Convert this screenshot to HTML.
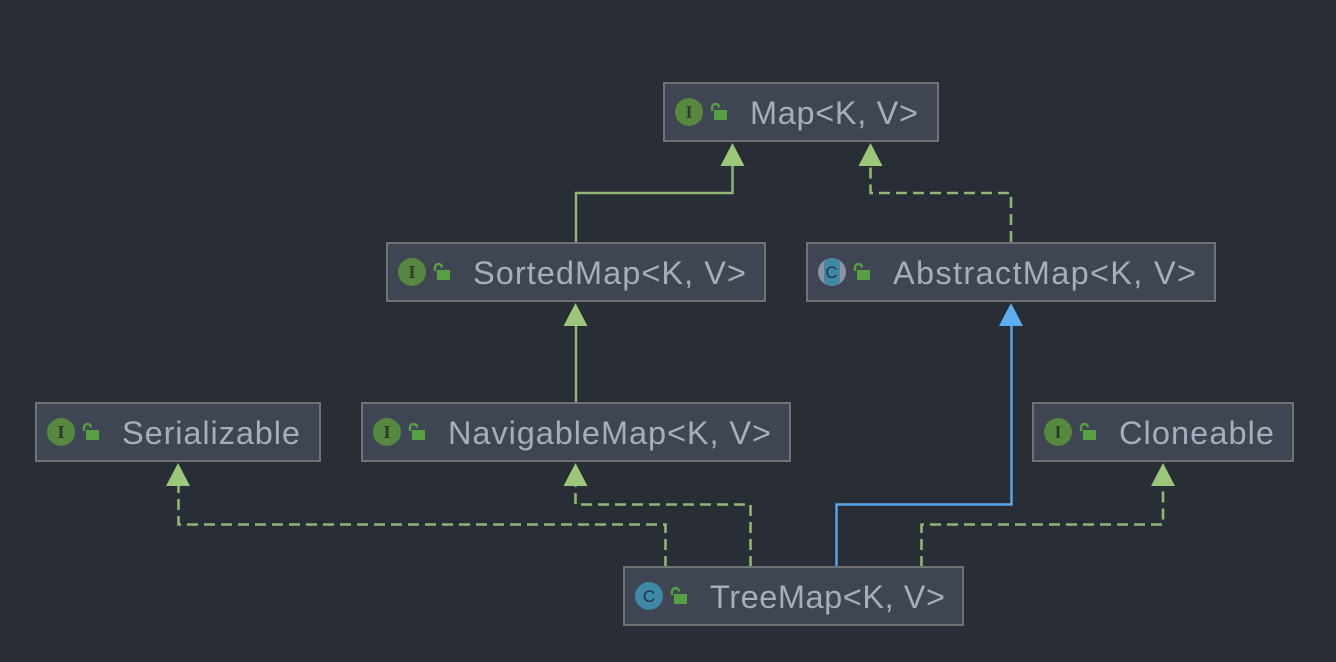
<!DOCTYPE html>
<html><head><meta charset="utf-8"><style>
html,body{margin:0;padding:0;background:#292d35;width:1336px;height:662px;overflow:hidden}
svg{display:block}
text{font-family:"Liberation Sans",sans-serif}
.b{fill:#3f4552;stroke:#707171;stroke-width:2}
.t{font-size:32.500px;fill:#a7adbc}
.s{fill:none;stroke:#8fb771;stroke-width:2.400}
.d{fill:none;stroke:#8fb771;stroke-width:2.600;stroke-dasharray:11 6}
.u{fill:none;stroke:#5ba8e8;stroke-width:2.400}
.ga{fill:#9ac878}
.ba{fill:#5cadf2}
.ci{fill:#56893f}
.cc{fill:#3e88a8}
.lt{font-family:"Liberation Serif",serif;font-size:18px;font-weight:bold;fill:#2f3a2c;text-anchor:middle}
.lc{font-family:"Liberation Sans",sans-serif;font-size:17px;fill:#26333d;text-anchor:middle}
.lk{fill:#56a044}
.ls{fill:none;stroke:#56a044;stroke-width:2.400}
</style></head><body>
<svg width="1336" height="662" viewBox="0 0 1336 662" xmlns="http://www.w3.org/2000/svg">
<path class="s" d="M576 243V193H732.500V165"/>
<path class="d" d="M1011 242V193H870.500V165"/>
<path class="s" d="M576 403V325"/>
<path class="u" d="M1011.500 325V504.500H836.500V567"/>
<path class="d" d="M665.500 567V524.500H178.500V485"/>
<path class="d" d="M750.500 567V504.500H575.500V485"/>
<path class="d" d="M921.500 567V524.500H1163V485"/>

<polygon class="ga" points="732.500,143 744.500,166 720.500,166"/>
<polygon class="ga" points="870.500,143 882.500,166 858.500,166"/>
<polygon class="ga" points="575.500,303 587.500,326 563.500,326"/>
<polygon class="ba" points="1011,303 1023,326 999,326"/>
<polygon class="ga" points="178,463 190,486 166,486"/>
<polygon class="ga" points="575.500,463 587.500,486 563.500,486"/>
<polygon class="ga" points="1163,463 1175,486 1151,486"/>

<rect class="b" x="664" y="83" width="274" height="58"/>
<circle class="ci" cx="689" cy="112" r="14"/><text class="lt" x="689" y="118">I</text>
<path class="ls" d="M712 111V107.500A3.500 3.500 0 0 1 719 107.500"/><rect class="lk" x="714" y="110" width="13" height="10"/>
<text class="t" x="750" y="124" textLength="168" lengthAdjust="spacing">Map&lt;K, V&gt;</text>

<rect class="b" x="387" y="243" width="378" height="58"/>
<circle class="ci" cx="412" cy="272" r="14"/><text class="lt" x="412" y="278">I</text>
<path class="ls" d="M435 271V267.500A3.500 3.500 0 0 1 442 267.500"/><rect class="lk" x="437" y="270" width="13" height="10"/>
<text class="t" x="473" y="284" textLength="273" lengthAdjust="spacing">SortedMap&lt;K, V&gt;</text>

<rect class="b" x="807" y="243" width="408" height="58"/>
<circle fill="#8b929e" cx="832" cy="272" r="14"/><rect class="cc" x="824" y="258" width="16" height="28" rx="7"/><text class="lc" x="831.500" y="278">C</text>
<path class="ls" d="M855 271V267.500A3.500 3.500 0 0 1 862 267.500"/><rect class="lk" x="857" y="270" width="13" height="10"/>
<text class="t" x="893" y="284" textLength="303" lengthAdjust="spacing">AbstractMap&lt;K, V&gt;</text>

<rect class="b" x="36" y="403" width="284" height="58"/>
<circle class="ci" cx="61" cy="432" r="14"/><text class="lt" x="61" y="438">I</text>
<path class="ls" d="M84 431V427.500A3.500 3.500 0 0 1 91 427.500"/><rect class="lk" x="86" y="430" width="13" height="10"/>
<text class="t" x="122" y="444" textLength="178" lengthAdjust="spacing">Serializable</text>

<rect class="b" x="362" y="403" width="428" height="58"/>
<circle class="ci" cx="387" cy="432" r="14"/><text class="lt" x="387" y="438">I</text>
<path class="ls" d="M410 431V427.500A3.500 3.500 0 0 1 417 427.500"/><rect class="lk" x="412" y="430" width="13" height="10"/>
<text class="t" x="448" y="444" textLength="323" lengthAdjust="spacing">NavigableMap&lt;K, V&gt;</text>

<rect class="b" x="1033" y="403" width="260" height="58"/>
<circle class="ci" cx="1058" cy="432" r="14"/><text class="lt" x="1058" y="438">I</text>
<path class="ls" d="M1081 431V427.500A3.500 3.500 0 0 1 1088 427.500"/><rect class="lk" x="1083" y="430" width="13" height="10"/>
<text class="t" x="1119" y="444" textLength="155" lengthAdjust="spacing">Cloneable</text>

<rect class="b" x="624" y="567" width="339" height="58"/>
<circle class="cc" cx="649" cy="596" r="14"/><text class="lc" x="649" y="602">C</text>
<path class="ls" d="M672 595V591.500A3.500 3.500 0 0 1 679 591.500"/><rect class="lk" x="674" y="594" width="13" height="10"/>
<text class="t" x="710" y="608" textLength="235" lengthAdjust="spacing">TreeMap&lt;K, V&gt;</text>
</svg>
</body></html>
